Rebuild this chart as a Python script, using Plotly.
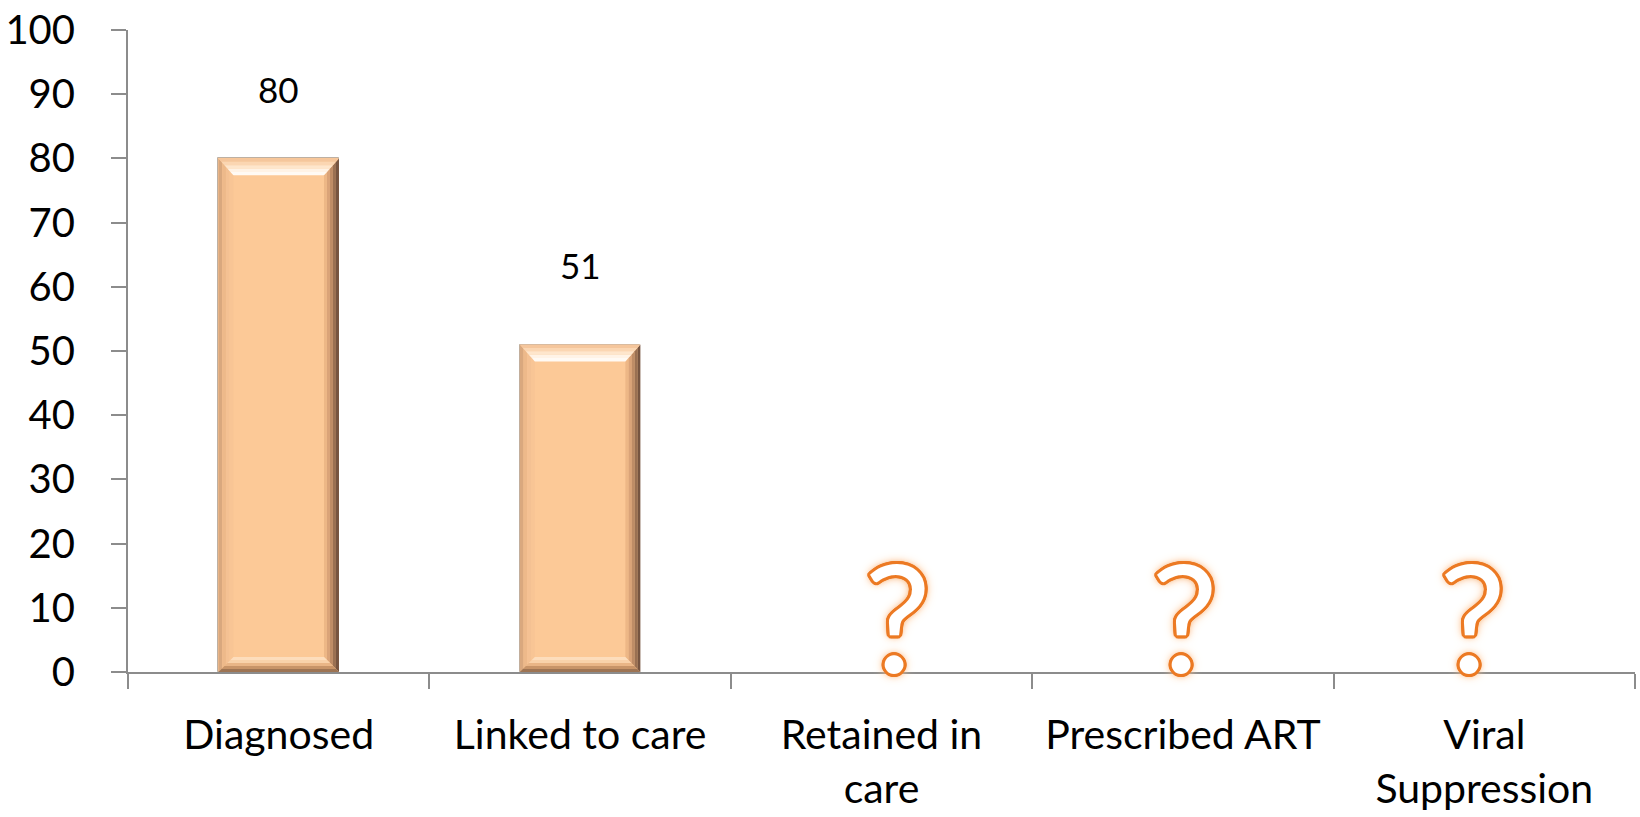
import plotly.graph_objects as go

# HIV care continuum: share of people at each stage (unknown stages shown as "?")
categories = ["Diagnosed", "Linked to care", "Retained in<br>care", "Prescribed ART", "Viral<br>Suppression"]
values = [80, 51, None, None, None]
unknown_symbol = "?"
y_tickvals = [0, 10, 20, 30, 40, 50, 60, 70, 80, 90, 100]

# ---- canvas geometry -------------------------------------------------------
W, H = 1640, 817
M = dict(l=128, r=5, t=28, b=144)
plot_w = W - M["l"] - M["r"]
plot_h = H - M["t"] - M["b"]
x_range = [-0.5, len(categories) - 0.5]
y_range = [0, 100]
ux = (x_range[1] - x_range[0]) / plot_w   # x data units per pixel
uy = (y_range[1] - y_range[0]) / plot_h   # y data units per pixel

BAR_W = 0.4
FACE = "#FCC997"
AXIS = "#8C8C8C"
FONT = "Lato, 'Open Sans', sans-serif"

# per-mark pixel nudges for the text overlays
label_lift = [69, 80, 0, 0, 0]
symbol_nudge = [16, 2, -12]

xs = list(range(len(categories)))
fig = go.Figure()
fig.add_trace(go.Bar(
    x=[x for x, v in zip(xs, values) if v is not None],
    y=[v for v in values if v is not None],
    width=BAR_W,
    marker=dict(color=FACE, line=dict(color="#BDB0A3", width=1)),
    hoverinfo="skip",
))


def lerp(p, q, t):
    return (p[0] + (q[0] - p[0]) * t, p[1] + (q[1] - p[1]) * t)


def path(pts):
    return "M " + " L ".join(f"{x:.5f},{y:.5f}" for x, y in pts) + " Z"


def bevel(shapes, a, b, a_in, b_in, colors):
    """Fill a bevel edge (outer a-b, inner a_in-b_in) with banded colours, outer first."""
    n = len(colors)
    for k, col in enumerate(colors):
        t0, t1 = k / n, (k + 1) / n
        pts = [lerp(a, a_in, t0), lerp(b, b_in, t0), lerp(b, b_in, t1), lerp(a, a_in, t1)]
        shapes.append(dict(type="path", path=path(pts), xref="x", yref="y",
                           fillcolor=col, line=dict(width=0), layer="above"))


shapes = []
side, top, bot = 15 * ux, 17 * uy, 15 * uy
for x, v in zip(xs, values):
    if v is None:
        continue
    x0, x1 = x - BAR_W / 2, x + BAR_W / 2
    TL, TR, BL, BR = (x0, v), (x1, v), (x0, 0), (x1, 0)
    iTL, iTR = (x0 + side, v - top), (x1 - side, v - top)
    iBL, iBR = (x0 + side, bot), (x1 - side, bot)
    # left edge
    bevel(shapes, TL, BL, iTL, iBL, ["#D9A87E", "#EDB98A", "#F4C193", "#F8C595"])
    # right edge (shadowed)
    bevel(shapes, TR, BR, iTR, iBR, ["#765440", "#9A7052", "#BE8C66", "#DAA378", "#EDB786"])
    # bottom edge
    bevel(shapes, BL, BR, iBL, iBR, ["#9E7453", "#C89468", "#E9B586", "#F9D2AA", "#FDDDBC"])
    # top edge (highlight)
    bevel(shapes, TL, TR, iTL, iTR, ["#F5C69C", "#FBD6B2", "#FEE6CC", "#FFF3E6", "#FFFAF4"])

annotations = []
# value labels above bars
for x, v, lift in zip(xs, values, label_lift):
    if v is not None:
        annotations.append(dict(x=x, y=v, xref="x", yref="y", text=str(v), showarrow=False,
                                yanchor="middle", yshift=lift,
                                font=dict(family=FONT, size=35, color="#000000")))

# outlined, glowing question marks for stages without data
ring = []
for dx in range(-3, 4):
    for dy in range(-3, 4):
        if (dx, dy) != (0, 0) and dx * dx + dy * dy <= 10:
            ring.append(f"{dx}px {dy}px 0 #EC7A24")
glow = ", ".join(ring + ["0 0 6px #F49A4E", "0 0 10px #F9BE8A", "0 0 14px #FCD6B4"])
unknown_x = [x for x, v in zip(xs, values) if v is None]
for x, nudge in zip(unknown_x, symbol_nudge):
    annotations.append(dict(x=x, y=0, xref="x", yref="y", text=unknown_symbol, showarrow=False,
                            yanchor="bottom", yshift=-35, xshift=nudge,
                            font=dict(family=FONT, size=150, color="#FFFFFF", shadow=glow)))

fig.update_layout(
    width=W, height=H,
    margin=dict(l=M["l"], r=M["r"], t=M["t"], b=M["b"], pad=0),
    paper_bgcolor="white", plot_bgcolor="white",
    showlegend=False,
    shapes=shapes,
    annotations=annotations,
    bargap=0,
    xaxis=dict(
        range=x_range, tickmode="array", tickvals=xs, ticktext=categories,
        ticks="", showgrid=False, zeroline=False,
        showline=True, linecolor=AXIS, linewidth=2,
        tickfont=dict(family=FONT, size=41, color="#000000"),
        ticklabelstandoff=26,
        minor=dict(tickmode="array", tickvals=[i - 0.5 for i in range(len(categories) + 1)],
                   ticks="outside", ticklen=15, tickwidth=2, tickcolor=AXIS, showgrid=False),
    ),
    yaxis=dict(
        range=y_range, tickmode="array", tickvals=y_tickvals,
        ticks="outside", ticklen=15, tickwidth=2, tickcolor=AXIS,
        showgrid=False, zeroline=False,
        showline=True, linecolor=AXIS, linewidth=2,
        tickfont=dict(family=FONT, size=40, color="#000000"),
        ticklabelstandoff=28,
    ),
)

fig.write_html("out.html")
